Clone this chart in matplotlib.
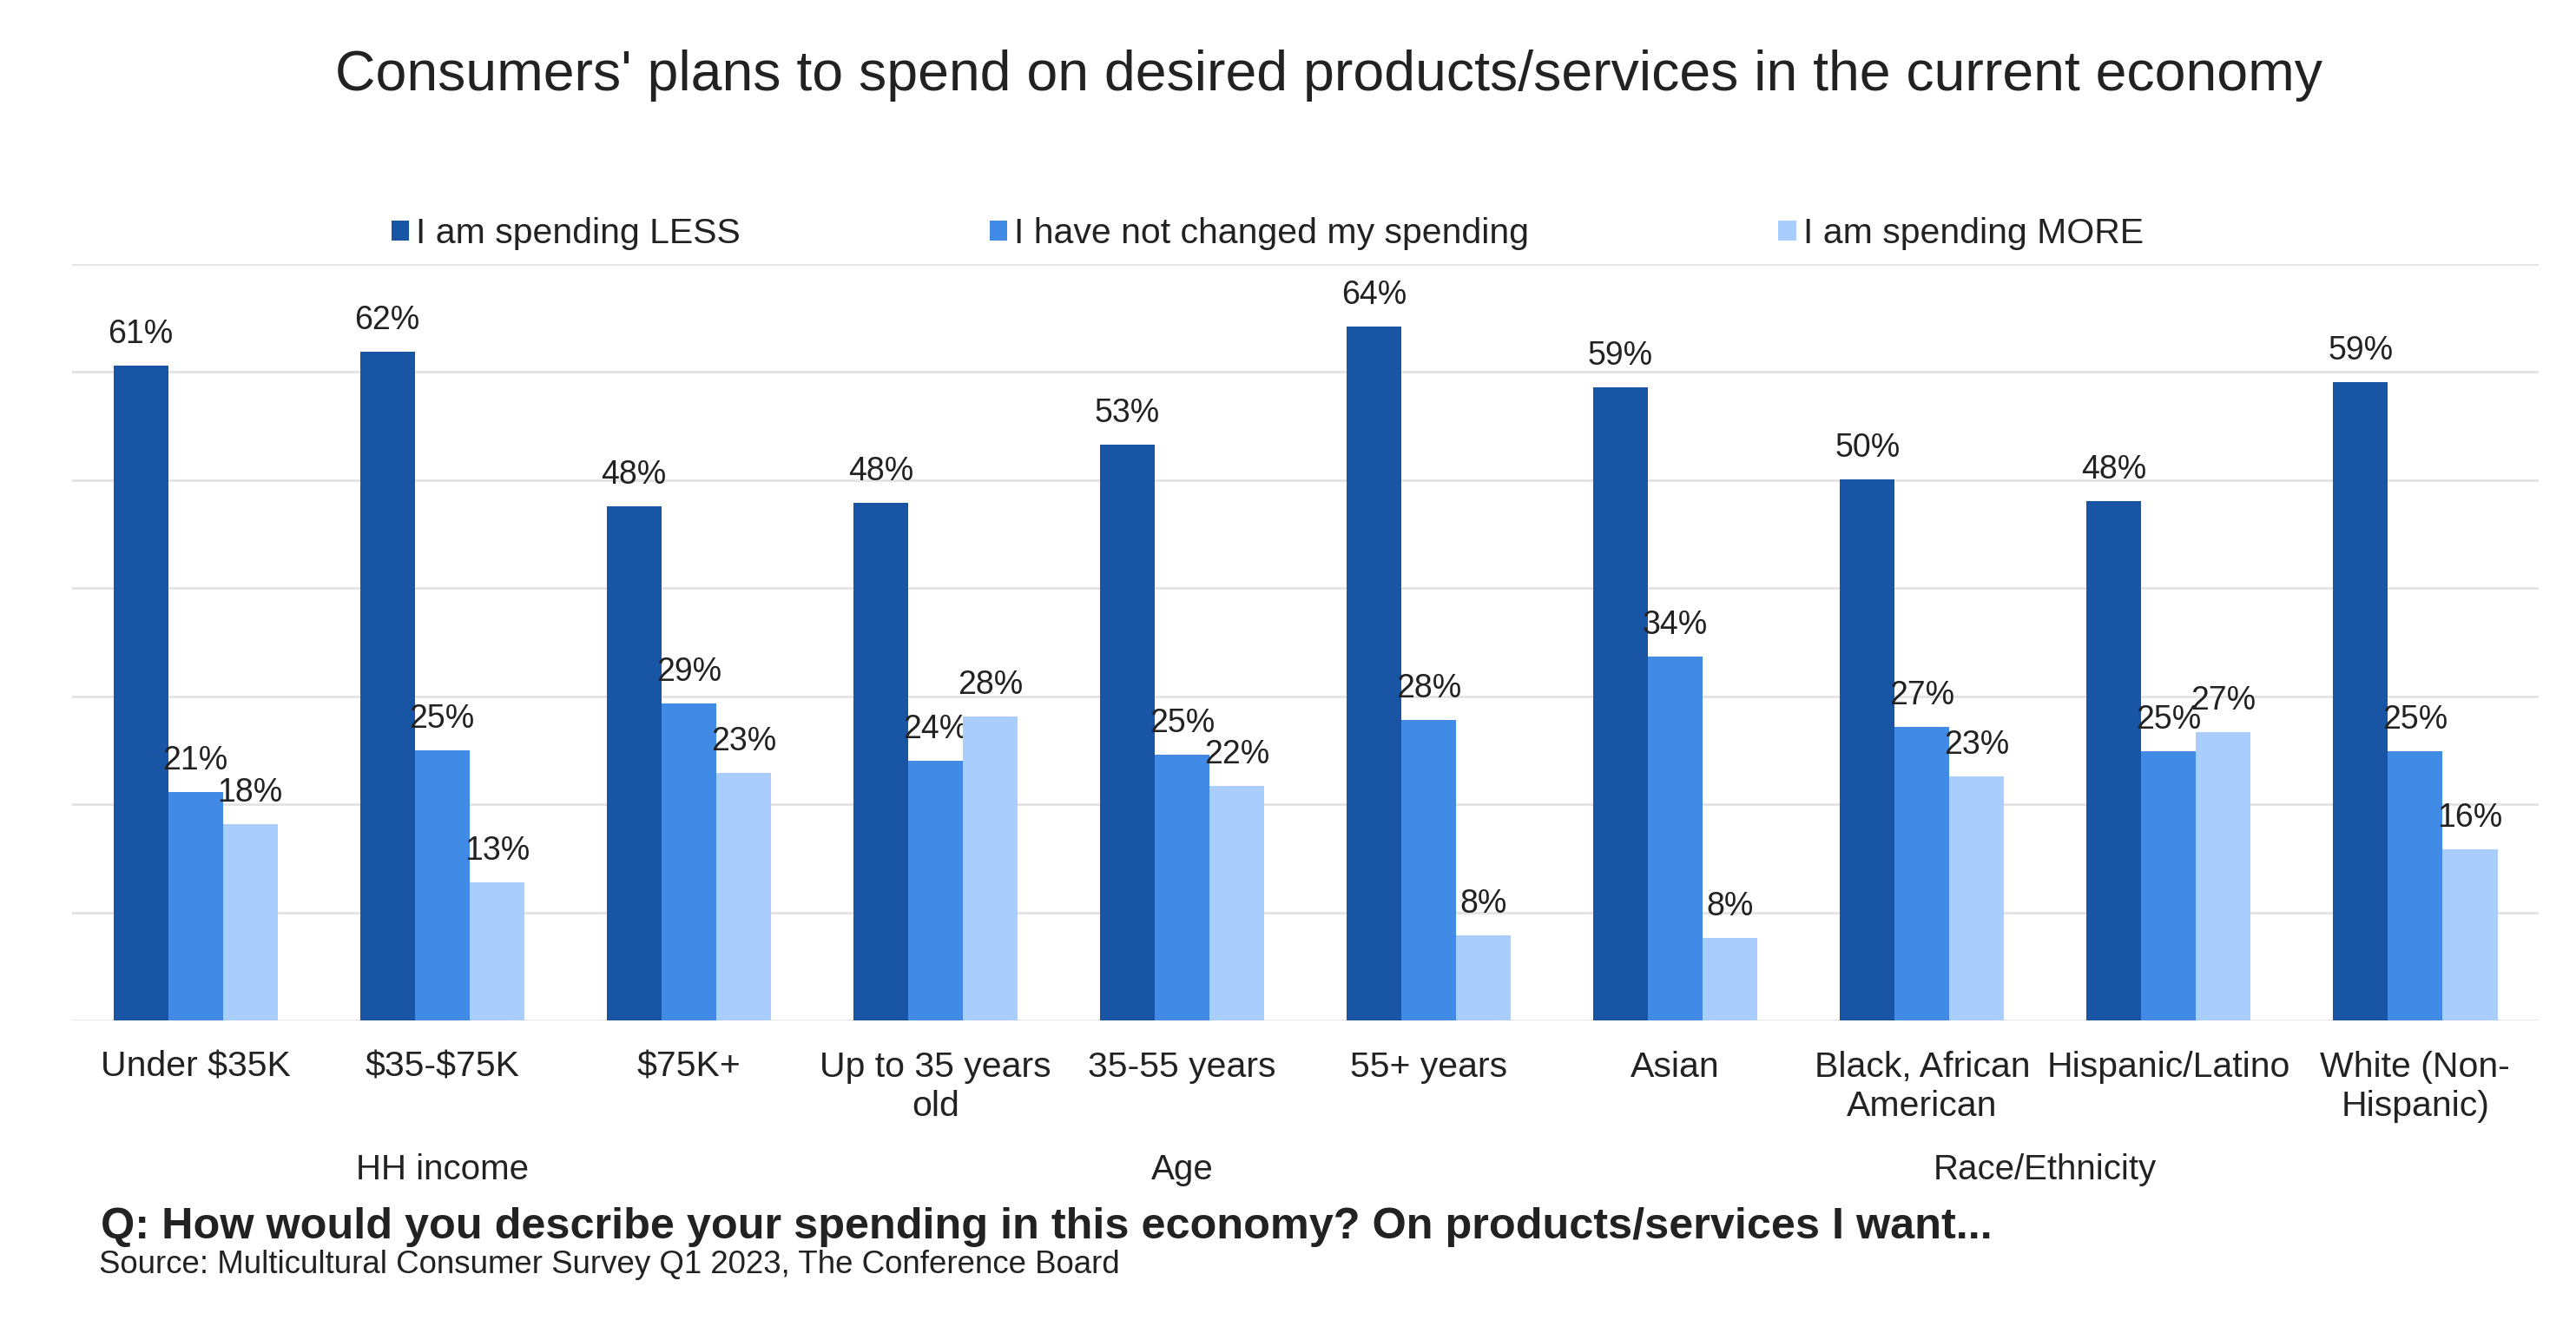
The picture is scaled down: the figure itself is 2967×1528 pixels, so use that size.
import matplotlib.pyplot as plt
import numpy as np
from matplotlib.transforms import blended_transform_factory

plt.rcParams["font.family"] = ["Liberation Sans", "DejaVu Sans"]

categories = ["Under \\$35K", "\\$35-\\$75K", "\\$75K+", "Up to 35 years\nold", "35-55 years",
              "55+ years", "Asian", "Black, African\nAmerican", "Hispanic/Latino",
              "White (Non-\nHispanic)"]
series_names = ["I am spending LESS", "I have not changed my spending", "I am spending MORE"]
spending_less = [60.6, 61.9, 47.6, 47.9, 53.3, 64.2, 58.6, 50.1, 48.1, 59.1]
no_change = [21.1, 25.0, 29.3, 24.0, 24.6, 27.8, 33.7, 27.2, 24.9, 24.9]
spending_more = [18.2, 12.8, 22.9, 28.1, 21.7, 7.9, 7.6, 22.6, 26.7, 15.8]
groups = ["HH income", "Age", "Race/Ethnicity"]
group_pos = [1, 4, 7.5]

colors = ["#1955A5", "#418AE5", "#A9CEFE"]
text_color = "#222222"

fig = plt.figure(figsize=(29.67, 15.28), dpi=100)
ax = fig.add_axes([0.028, 0.2310, 0.9575, 0.5700])

x = np.arange(len(categories))
width = 0.222
for i, (vals, name) in enumerate(zip([spending_less, no_change, spending_more], series_names)):
    bars = ax.bar(x + (i - 1) * width, vals, width, color=colors[i], label=name, zorder=3)
    for b, v in zip(bars, vals):
        ax.annotate(f"{v:.0f}%", (b.get_x() + b.get_width() / 2, v),
                    xytext=(0, 26), textcoords="offset pixels",
                    ha="center", va="baseline", fontsize=27, color=text_color)

ax.set_xlim(-0.5, len(categories) - 0.5)
ax.set_ylim(0, 70)
ax.set_yticks(np.arange(0, 71, 10))
ax.yaxis.grid(True, color="#E3E3E3", lw=2, zorder=0)
ax.tick_params(axis="y", left=False, labelleft=False)
ax.set_xticks(x)
ax.set_xticklabels(categories, fontsize=29.5, color=text_color, linespacing=1.25)
ax.tick_params(axis="x", length=0, pad=25)
for s in ax.spines.values():
    s.set_visible(False)

trans = blended_transform_factory(ax.transData, fig.transFigure)
for g, p in zip(groups, group_pos):
    ax.text(p, 0.111, g, transform=trans, ha="center", va="baseline",
            fontsize=29, color=text_color)

fig.text(0.516, 0.932, "Consumers' plans to spend on desired products/services in the current economy",
         ha="center", va="baseline", fontsize=46.4, color=text_color)

fig.legend(loc="center", bbox_to_anchor=(0.492, 1 - 269 / 1528), ncol=3, frameon=False,
           fontsize=29.5, handlelength=0.5, handleheight=0.5, handletextpad=0.2,
           columnspacing=7.0, labelcolor=text_color)

fig.text(0.039, 0.0665, "Q: How would you describe your spending in this economy? On products/services I want...",
         ha="left", va="baseline", fontsize=36.3, fontweight="bold", color=text_color)
fig.text(0.0385, 0.0405, "Source: Multicultural Consumer Survey Q1 2023, The Conference Board",
         ha="left", va="baseline", fontsize=26.4, color=text_color)

fig.savefig("out.png", dpi=100)
